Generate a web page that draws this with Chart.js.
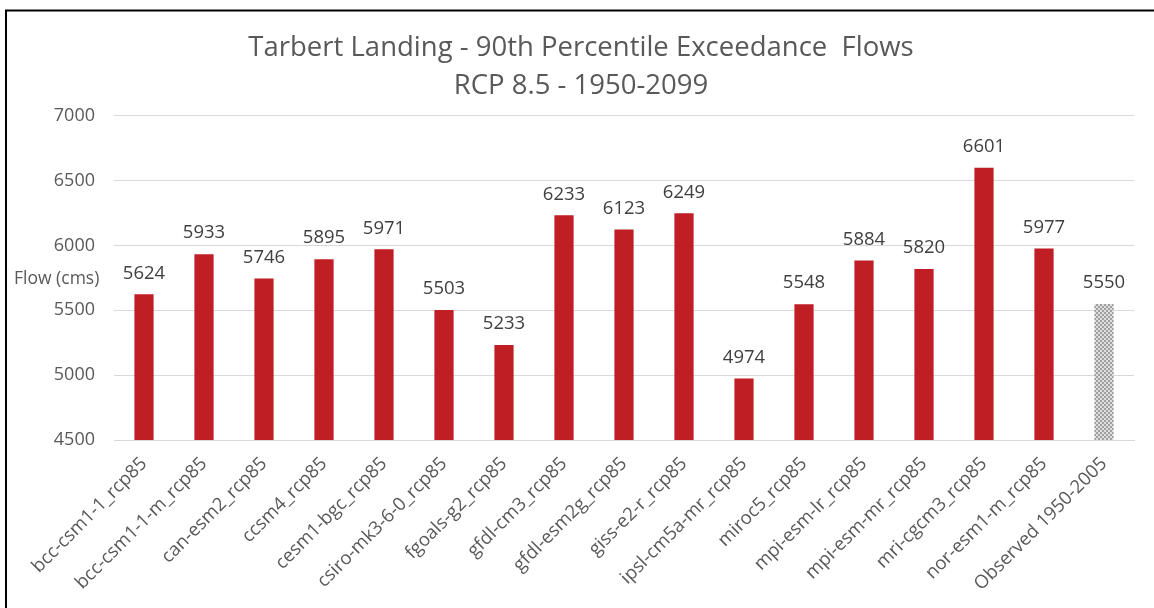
<!DOCTYPE html>
<html>
<head>
<meta charset="utf-8">
<script src="https://cdn.jsdelivr.net/npm/chart.js@4/dist/chart.umd.min.js"></script>
<style>
  html, body { margin: 0; padding: 0; background: #fff; }
  #wrap { width: 1154px; height: 608px; position: relative; }
</style>
</head>
<body>
<div id="wrap"><canvas id="c" width="1154" height="608"></canvas></div>
<script>
const categories = [
  "bcc-csm1-1_rcp85", "bcc-csm1-1-m_rcp85", "can-esm2_rcp85", "ccsm4_rcp85",
  "cesm1-bgc_rcp85", "csiro-mk3-6-0_rcp85", "fgoals-g2_rcp85", "gfdl-cm3_rcp85",
  "gfdl-esm2g_rcp85", "giss-e2-r_rcp85", "ipsl-cm5a-mr_rcp85", "miroc5_rcp85",
  "mpi-esm-lr_rcp85", "mpi-esm-mr_rcp85", "mri-cgcm3_rcp85", "nor-esm1-m_rcp85",
  "Observed 1950-2005"
];
const flows = [5624, 5933, 5746, 5895, 5971, 5503, 5233, 6233, 6123, 6249, 4974, 5548, 5884, 5820, 6601, 5977, 5550];
const observedIndex = 16;
const titleLines = ["Tarbert Landing - 90th Percentile Exceedance  Flows", "RCP 8.5 - 1950-2099"];
const yAxisLabel = "Flow (cms)";
const yMin = 4500, yMax = 7000, yStep = 500;

const FONT = "'Open Sans', 'Noto Sans', sans-serif";

function makePattern() {
  const p = document.createElement('canvas');
  p.width = 4; p.height = 4;
  const g = p.getContext('2d');
  g.fillStyle = '#dedede';
  g.fillRect(0, 0, 4, 4);
  g.fillStyle = '#a0a0a0';
  g.fillRect(0, 0, 2, 2);
  g.fillRect(2, 2, 2, 2);
  return document.getElementById('c').getContext('2d').createPattern(p, 'repeat');
}
const pattern = makePattern();
const barColors = flows.map((v, i) => i === observedIndex ? pattern : '#BE1E24');

const frame = {
  id: 'frame',
  beforeDraw(chart) {
    const ctx = chart.ctx;
    ctx.save();
    ctx.fillStyle = '#fff';
    ctx.fillRect(0, 0, chart.width, chart.height);
    ctx.restore();
  },
  afterDraw(chart) {
    const ctx = chart.ctx;
    ctx.save();
    ctx.strokeStyle = '#000';
    ctx.lineWidth = 2;
    ctx.strokeRect(6, 10.5, chart.width + 20, chart.height + 20);
    ctx.fillStyle = '#595959';
    ctx.font = "17.5px " + FONT;
    ctx.textAlign = 'left';
    ctx.textBaseline = 'middle';
    ctx.fillText(yAxisLabel, 14, 279);
    ctx.restore();
  }
};

const valueLabels = {
  id: 'valueLabels',
  afterDatasetsDraw(chart) {
    const ctx = chart.ctx;
    const meta = chart.getDatasetMeta(0);
    ctx.save();
    ctx.fillStyle = '#404040';
    ctx.font = "18.5px " + FONT;
    ctx.textAlign = 'center';
    ctx.textBaseline = 'middle';
    meta.data.forEach((bar, i) => {
      ctx.fillText(String(chart.data.datasets[0].data[i]), bar.x, bar.y - 21);
    });
    ctx.restore();
  }
};

new Chart(document.getElementById('c'), {
  type: 'bar',
  data: {
    labels: categories,
    datasets: [{
      data: flows,
      backgroundColor: barColors,
      borderWidth: 0,
      barPercentage: 0.32,
      categoryPercentage: 1.0
    }]
  },
  options: {
    responsive: false,
    animation: false,
    devicePixelRatio: 1,
    layout: { padding: { left: 28, right: 20, top: 0, bottom: 0 } },
    plugins: {
      legend: { display: false },
      tooltip: { enabled: false },
      title: {
        display: true,
        text: titleLines,
        color: '#595959',
        font: { family: FONT, size: 27.5, weight: 'normal', lineHeight: 1.38 },
        padding: { top: 29, bottom: 11 }
      }
    },
    scales: {
      x: {
        grid: { display: false, drawTicks: false },
        border: { display: true, color: '#d9d9d9' },
        ticks: {
          color: '#595959',
          font: { family: FONT, size: 18.5 },
          minRotation: 45, maxRotation: 45,
          padding: 13,
          autoSkip: false
        },
        afterFit(s) { s.height = 168; }
      },
      y: {
        min: yMin, max: yMax,
        grid: { color: '#d9d9d9', lineWidth: 1, drawTicks: false },
        border: { display: false },
        ticks: {
          stepSize: yStep,
          color: '#595959',
          font: { family: FONT, size: 18 },
          padding: 19,
          callback: (v) => String(v)
        },
        afterFit(s) { s.width = 86; }
      }
    }
  },
  plugins: [frame, valueLabels]
});
</script>
</body>
</html>
